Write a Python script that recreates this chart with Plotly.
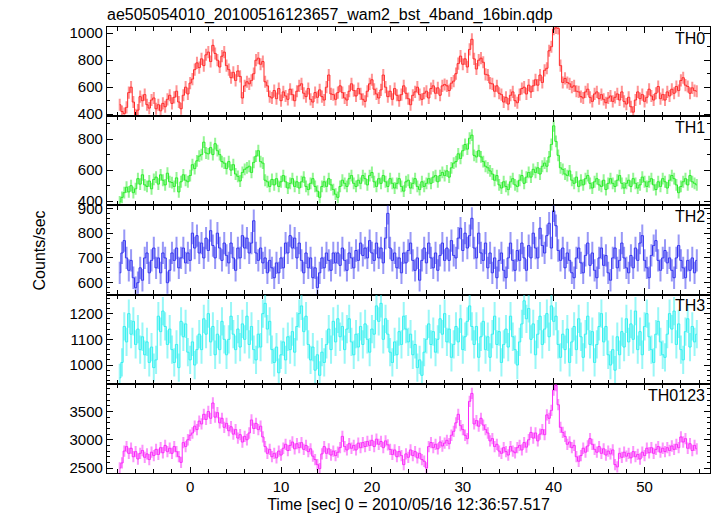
import numpy as np
import plotly.graph_objects as go
from plotly.subplots import make_subplots

T0 = -7.75
BIN = 0.25

th0 = [470, 420, 405, 450, 560, 600, 490, 395, 430, 530, 500, 545, 470, 445, 505, 520,
       440, 470, 425, 480, 455, 510, 540, 480, 525, 570, 490, 440, 540, 600, 550, 630,
       660, 730, 780, 745, 810, 760, 840, 860, 790, 910, 850, 800, 750, 830, 860, 760,
       730, 670, 710, 650, 720, 680, 520, 610, 640, 625, 650, 700, 800, 815, 770, 790,
       640, 610, 530, 520, 575, 515, 590, 500, 565, 535, 510, 585, 545, 500, 570, 610,
       625, 555, 530, 590, 510, 490, 560, 525, 580, 530, 505, 600, 690, 550, 545, 510,
       560, 610, 560, 520, 505, 570, 625, 575, 535, 590, 550, 510, 495, 570, 625, 655,
       585, 550, 520, 580, 690, 600, 530, 570, 510, 590, 540, 500, 545, 610, 555, 515,
       470, 540, 565, 600, 545, 510, 555, 570, 520, 590, 610, 555, 595, 540, 610, 620,
       610, 575, 630, 645, 700, 775, 830, 770, 810, 750, 880, 955, 810, 735, 800, 815,
       785, 695, 690, 630, 625, 570, 610, 555, 545, 490, 525, 475, 540, 565, 500, 485,
       545, 590, 600, 550, 615, 565, 610, 655, 615, 690, 635, 725, 740, 870, 900, 1030,
       1040, 1035, 760, 635, 665, 635, 625, 600, 610, 570, 565, 530, 520, 565, 585, 525,
       495, 550, 565, 515, 545, 510, 485, 520, 535, 495, 525, 550, 505, 565, 495, 475,
       525, 455, 415, 505, 565, 515, 545, 495, 525, 585, 535, 505, 555, 605, 515, 545,
       505, 565, 535, 585, 555, 605, 575, 650, 670, 615, 605, 555, 595, 575, 570]

th1 = [395, 425, 455, 490, 460, 500, 455, 480, 545, 510, 570, 505, 495, 530, 480, 540,
       555, 510, 570, 535, 505, 580, 525, 520, 495, 550, 460, 525, 570, 535, 525, 565,
       635, 610, 660, 690, 700, 780, 710, 705, 745, 700, 770, 725, 700, 655, 645, 610,
       655, 600, 635, 575, 560, 530, 585, 605, 615, 625, 585, 650, 690, 725, 655, 645,
       535, 525, 495, 540, 505, 545, 495, 525, 565, 525, 485, 515, 545, 495, 525, 485,
       525, 555, 495, 475, 515, 545, 495, 465, 425, 495, 525, 495, 545, 505, 475, 445,
       425, 495, 535, 515, 495, 545, 565, 515, 495, 535, 515, 565, 545, 505, 565, 585,
       525, 495, 545, 515, 565, 525, 495, 545, 515, 485, 515, 545, 495, 465, 525, 535,
       485, 515, 545, 495, 475, 525, 495, 515, 545, 515, 555, 565, 525, 565, 585, 565,
       595, 555, 615, 645, 655, 705, 675, 725, 765, 735, 805, 825, 695, 685, 725, 685,
       655, 625, 615, 595, 575, 535, 565, 505, 485, 525, 495, 475, 525, 545, 505, 495,
       535, 565, 515, 555, 585, 555, 605, 585, 615, 575, 625, 645, 625, 685, 765, 885,
       785, 695, 615, 605, 575, 565, 595, 535, 515, 555, 495, 535, 505, 545, 565, 515,
       485, 525, 545, 505, 495, 535, 475, 515, 545, 515, 495, 535, 565, 515, 485, 515,
       535, 495, 545, 515, 485, 505, 555, 525, 495, 525, 545, 505, 475, 525, 495, 545,
       525, 485, 535, 565, 545, 505, 455, 495, 525, 545, 505, 565, 525, 515, 505]

th2 = [640, 720, 770, 700, 650, 690, 620, 580, 600, 660, 610, 700, 720, 640, 690, 740,
       660, 700, 640, 720, 700, 600, 650, 720, 690, 740, 660, 700, 740, 680, 720, 690,
       800, 740, 790, 720, 760, 700, 780, 730, 810, 750, 700, 800, 740, 690, 760, 710,
       680, 760, 700, 650, 740, 700, 790, 740, 780, 720, 760, 850, 720, 690, 740, 680,
       700, 640, 690, 660, 620, 680, 640, 700, 660, 760, 720, 790, 740, 780, 700, 760,
       690, 640, 720, 660, 700, 620, 660, 580, 640, 700, 660, 720, 690, 650, 720, 680,
       720, 670, 740, 690, 650, 720, 700, 660, 730, 690, 760, 710, 740, 700, 770, 720,
       690, 760, 700, 740, 680, 780, 880, 740, 690, 720, 660, 700, 640, 720, 680, 730,
       760, 690, 650, 700, 610, 690, 740, 680, 760, 700, 660, 720, 650, 710, 760, 690,
       740, 690, 770, 710, 700, 780, 820, 730, 800, 740, 790, 860, 740, 700, 800, 720,
       690, 760, 660, 720, 640, 700, 620, 690, 720, 650, 620, 700, 760, 690, 650, 730,
       690, 760, 700, 650, 750, 700, 800, 740, 700, 820, 750, 720, 790, 840, 740, 890,
       830, 730, 690, 740, 660, 720, 690, 640, 620, 700, 740, 680, 640, 710, 760, 670,
       720, 650, 620, 700, 740, 670, 710, 640, 610, 700, 740, 660, 690, 760, 700, 660,
       640, 710, 660, 740, 690, 760, 790, 690, 660, 620, 710, 750, 770, 690, 650, 700,
       730, 680, 700, 650, 620, 700, 750, 690, 660, 620, 690, 650, 700, 640, 690]

th3 = [950, 1010, 1150, 1090, 1200, 1120, 1170, 1080, 1140, 1060, 1110, 1040, 1090, 1010, 1070, 990,
       1020, 1190, 1130, 1210, 1150, 1080, 1140, 1060, 1010, 1080, 990, 1170, 1110, 1160, 1050, 1020,
       1090, 1000, 1060, 1120, 1060, 1180, 1120, 1200, 1090, 1150, 1040, 1120, 1060, 1170, 1100, 1040,
       1100, 1190, 1120, 1060, 1140, 1070, 1160, 1100, 1190, 1080, 1150, 1060, 1020, 1120, 1070, 1200,
       1240, 1140, 1170, 1060, 1010, 1070, 970, 1040, 1090, 1020, 1110, 1060, 1130, 1050, 1150, 1200,
       1230, 1130, 1190, 1080, 1020, 1070, 980, 1040, 960, 1050, 1010, 1080, 1140, 1060, 1170, 1090,
       1180, 1110, 1150, 1060, 1140, 1180, 1090, 1040, 1120, 1070, 1150, 1080, 1160, 1100, 1050, 1140,
       1120, 1230, 1170, 1240, 1100, 1180, 1120, 1050, 1010, 1090, 1040, 1130, 1080, 1190, 1140, 1090,
       1120, 1040, 1080, 990, 1020, 960, 1050, 1100, 1160, 1080, 1130, 1050, 1100, 1180, 1120, 1200,
       1090, 1140, 1030, 1080, 1150, 1090, 1180, 1060, 1110, 1170, 1230, 1150, 1080, 1150, 1030, 1110,
       1170, 1060, 1110, 1030, 1120, 1190, 1080, 1130, 1010, 1080, 1140, 1070, 1190, 1110, 1060, 1000,
       1090, 1160, 1250, 1180, 1220, 1100, 1160, 1040, 1120, 1190, 1080, 1140, 1200, 1110, 1230, 1170,
       1190, 1080, 1030, 1120, 1060, 1140, 1010, 1090, 1150, 1060, 1180, 1110, 1030, 1120, 1190, 1080,
       1130, 1010, 1080, 1150, 1200, 1090, 1150, 1040, 1000, 1060, 980, 1110, 1040, 1130, 1070, 1180,
       1090, 1160, 1100, 1210, 1060, 1130, 1040, 1150, 1200, 1110, 1060, 1010, 1120, 1170, 1090, 1040,
       1030, 1120, 1200, 1140, 1210, 1080, 1160, 1060, 1020, 1130, 1180, 1070, 1150, 1090, 1120]

th0123 = [2500, 2590, 2800, 2880, 2760, 2850, 2700, 2790, 2660, 2760, 2810, 2690, 2750, 2650, 2780, 2720,
          2830, 2740, 2860, 2770, 2900, 2790, 2850, 2760, 2880, 2790, 2700, 2600, 2950, 2880, 3000, 3080,
          3120, 3240, 3180, 3330, 3280, 3450, 3360, 3500, 3380, 3650, 3400, 3480, 3300, 3380, 3220, 3290,
          3160, 3230, 3100, 3180, 3030, 3090, 2960, 3060, 3000, 3120, 3350, 3200, 3290, 3180, 3240, 3050,
          2880, 2760, 2830, 2700, 2760, 2680, 2800, 2730, 2850, 2920, 2810, 2900, 2960, 2840, 2930, 2860,
          2950, 2830, 2900, 2790, 2840, 2710, 2650, 2560, 2490, 2750, 2880, 2760, 2840, 2730, 2800, 2720,
          2780, 2860, 3060, 2880, 2820, 2930, 2850, 2900, 2820, 2940, 2860, 2950, 2880, 2970, 2900, 2990,
          2880, 3010, 2920, 2970, 2860, 2980, 2910, 2830, 2740, 2820, 2700, 2790, 2720, 2560, 2750, 2690,
          2820, 2720, 2790, 2680, 2760, 2650, 2620, 2500, 2880, 2950, 2860, 2920, 2840, 2960, 2890, 2940,
          2990, 2930, 3080, 3150, 3300, 3450, 3250, 3180, 3080, 3020, 3680, 3820, 3280, 3340, 3240, 3380,
          3260, 3180, 3120, 2980, 3020, 2880, 2920, 2800, 2760, 2860, 2790, 2730, 2880, 2800, 2770, 2860,
          2900, 2820, 2950, 2870, 3000, 3130, 3030, 3120, 2980, 3100, 3180, 3090, 3440, 3380, 3520, 3880,
          3960, 3620, 3220, 3130, 3060, 2920, 2960, 2860, 2900, 2700, 2620, 2720, 2850, 2780, 2890, 3020,
          2920, 2830, 2780, 2880, 2760, 2840, 2730, 2800, 2750, 2820, 2560, 2520, 2760, 2690, 2780, 2710,
          2760, 2680, 2790, 2700, 2740, 2660, 2780, 2720, 2850, 2770, 2860, 2760, 2830, 2880, 2780, 2850,
          2790, 2860, 2810, 2890, 2830, 2920, 2860, 3050, 2960, 3020, 2850, 2930, 2810, 2900, 2840]

band_names = ["TH0", "TH1", "TH2", "TH3", "TH0123"]
band_values = [th0, th1, th2, th3, th0123]
band_errors = [45, 38, 45, 55, 100]

colors = ["rgb(255,40,40)", "rgb(40,235,40)", "rgb(50,50,240)", "rgb(50,240,240)", "rgb(250,40,250)"]
err_colors = ["rgba(255,40,40,0.5)", "rgba(40,235,40,0.5)", "rgba(50,50,240,0.5)",
              "rgba(50,240,240,0.5)", "rgba(250,40,250,0.5)"]
y_ranges = [[385, 1046], [373, 947], [552, 912], [927, 1274], [2412, 3990]]
y_dticks = [200, 200, 100, 100, 500]
y_minor = [100, 100, 20, 20, 100]

FONT = "Liberation Sans, Arial, Helvetica, sans-serif"

fig = make_subplots(rows=5, cols=1, shared_xaxes=True, vertical_spacing=0)

for i, (name, vals) in enumerate(zip(band_names, band_values)):
    t = T0 + BIN * np.arange(len(vals))
    fig.add_trace(go.Scatter(
        x=t, y=vals, mode="lines", line=dict(color=colors[i], width=1, shape="hvh"),
        error_y=dict(type="constant", value=band_errors[i], color=err_colors[i], thickness=2, width=0),
        showlegend=False, hoverinfo="skip"), row=i + 1, col=1)
    fig.update_yaxes(row=i + 1, col=1, range=y_ranges[i], dtick=y_dticks[i], tick0=0,
                     ticks="inside", ticklen=6, tickwidth=1, tickcolor="black",
                     minor=dict(dtick=y_minor[i], tick0=0, ticks="inside", ticklen=3, tickcolor="black"),
                     showline=True, linecolor="black", linewidth=1.3, mirror="ticks",
                     showgrid=False, zeroline=False,
                     tickfont=dict(family=FONT, size=15, color="black"))
    fig.update_xaxes(row=i + 1, col=1, range=[-9.15, 57.2], dtick=10, tick0=0,
                     ticks="inside", ticklen=6, tickwidth=1, tickcolor="black",
                     minor=dict(dtick=2, tick0=0, ticks="inside", ticklen=4, tickcolor="black"),
                     showline=True, linecolor="black", linewidth=1.3, mirror="ticks",
                     showgrid=False, zeroline=False,
                     tickfont=dict(family=FONT, size=15, color="black"))
    fig.add_annotation(text=name, xref="x domain" if i == 0 else f"x{i+1} domain",
                       yref="y domain" if i == 0 else f"y{i+1} domain",
                       x=0.995, y=0.99, xanchor="right", yanchor="top", showarrow=False,
                       font=dict(family=FONT, size=16, color="black"))

fig.update_xaxes(row=5, col=1, title=dict(text="Time [sec] 0 = 2010/05/16 12:36:57.517",
                                          font=dict(family=FONT, size=16, color="black"), standoff=4))

fig.add_annotation(text="Counts/sec", xref="paper", yref="paper", x=-0.112, y=0.5,
                   xanchor="center", yanchor="middle", textangle=-90, showarrow=False,
                   font=dict(family=FONT, size=16, color="black"))

fig.update_layout(
    width=717, height=516,
    margin=dict(l=107, r=6, t=27, b=40),
    paper_bgcolor="white", plot_bgcolor="white",
    title=dict(text="ae505054010_20100516123657_wam2_bst_4band_16bin.qdp",
               x=107 / 717, xanchor="left", xref="container", y=1 - 14 / 516, yanchor="middle",
               yref="container", font=dict(family=FONT, size=16, color="black")),
)

fig.write_html("out.html", config={"displayModeBar": False},
               post_script="document.body.style.margin='0';document.body.style.overflow='hidden';")
